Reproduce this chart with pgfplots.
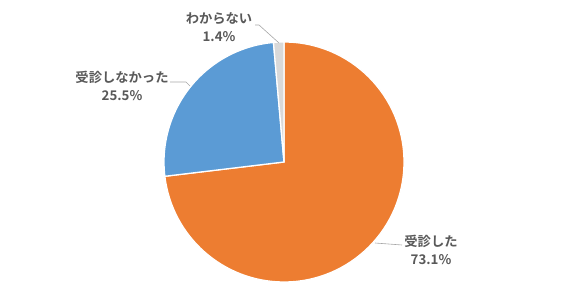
\documentclass[border=0pt]{standalone}
\usepackage{pgfplots}
\usepackage{pgfplotstable}
\pgfplotsset{compat=1.18}
\usepackage{fontspec}
\setmainfont{Noto Sans CJK JP}[BoldFont=* Bold]
\definecolor{orng}{HTML}{ED7D31}
\definecolor{blu}{HTML}{5B9BD5}
\definecolor{gry}{HTML}{D9D9D9}
\definecolor{txt}{HTML}{595959}
\definecolor{lead}{HTML}{A6A6A6}
\pgfplotstableread{
label value
A 73.1
B 25.5
C 1.4
}\piedata
\begin{document}
\begin{tikzpicture}
\pgfplotstablegetelem{0}{value}\of\piedata \let\va\pgfplotsretval
\pgfplotstablegetelem{1}{value}\of\piedata \let\vb\pgfplotsretval
\pgfplotstablegetelem{2}{value}\of\piedata \let\vc\pgfplotsretval
\pgfmathsetmacro\aA{90}
\pgfmathsetmacro\aB{90-3.6*\va}
\pgfmathsetmacro\aC{\aB-3.6*\vb}
\pgfmathsetmacro\aD{\aC-3.6*\vc}
\begin{axis}[
  width=568bp, height=296bp, scale only axis,
  xmin=0, xmax=568, ymin=0, ymax=296,
  hide axis, clip=false,
]
\path (axis cs:0,0) rectangle (axis cs:568,296);
\fill[orng, draw=white, line width=1.3pt] (axis cs:284,134) -- ++(\aA:120bp) arc[start angle=\aA, end angle=\aB, radius=120bp] -- cycle;
\fill[blu, draw=white, line width=1.3pt] (axis cs:284,134) -- ++(\aB:120bp) arc[start angle=\aB, end angle=\aC, radius=120bp] -- cycle;
\fill[gry, draw=white, line width=1.3pt] (axis cs:284,134) -- ++(\aC:120bp) arc[start angle=\aC, end angle=\aD, radius=120bp] -- cycle;
\draw[lead, line width=0.6pt] (axis cs:279,253) -- (axis cs:259,271) -- (axis cs:255,271);
\draw[lead, line width=0.6pt] (axis cs:190,210) -- (axis cs:186,214) -- (axis cs:170,214);
\draw[lead, line width=0.6pt] (axis cs:375,53) -- (axis cs:402,51);
\tikzset{lbl/.style={align=center, text=txt, font=\fontsize{13.3bp}{18bp}\selectfont\bfseries, inner sep=0pt}}
\node[lbl] at (axis cs:219,269) {わからない\\1.4\%};
\node[lbl] at (axis cs:122,210) {受診しなかった\\25.5\%};
\node[lbl] at (axis cs:431,46) {受診した\\73.1\%};
\end{axis}
\end{tikzpicture}
\end{document}
